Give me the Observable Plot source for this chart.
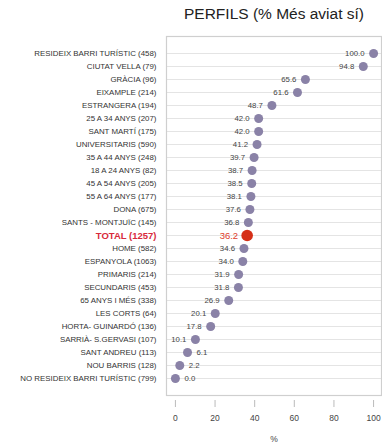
<!DOCTYPE html>
<html>
<head>
<meta charset="utf-8">
<script src="https://cdn.jsdelivr.net/npm/d3@7"></script>
<script src="https://cdn.jsdelivr.net/npm/@observablehq/plot@0.6"></script>
<style>
  html, body { margin: 0; padding: 0; background: #fff; }
  #chart { position: relative; width: 382px; height: 447px; }
  #title { position: absolute; left: 166px; width: 216px; top: 5px; text-align: center; z-index: 2;
           font-family: "Liberation Sans", Arial, sans-serif; font-size: 15.5px; color: #222; }
  #chart svg { position: absolute; left: 0; top: 0; z-index: 1; }
</style>
</head>
<body>
<div id="chart"><div id="title">PERFILS (% Més aviat sí)</div></div>
<script>
const categories = [
  "RESIDEIX BARRI TURÍSTIC (458)",
  "CIUTAT VELLA (79)",
  "GRÀCIA (96)",
  "EIXAMPLE (214)",
  "ESTRANGERA (194)",
  "25 A 34 ANYS (207)",
  "SANT MARTÍ (175)",
  "UNIVERSITARIS (590)",
  "35 A 44 ANYS (248)",
  "18 A 24 ANYS (82)",
  "45 A 54 ANYS (205)",
  "55 A 64 ANYS (177)",
  "DONA (675)",
  "SANTS - MONTJUÏC (145)",
  "TOTAL (1257)",
  "HOME (582)",
  "ESPANYOLA (1063)",
  "PRIMARIS (214)",
  "SECUNDARIS (453)",
  "65 ANYS I MÉS (338)",
  "LES CORTS (64)",
  "HORTA- GUINARDÓ (136)",
  "SARRIÀ- S.GERVASI (107)",
  "SANT ANDREU (113)",
  "NOU BARRIS (128)",
  "NO RESIDEIX BARRI TURÍSTIC (799)"
];
const values = [100.0, 94.8, 65.6, 61.6, 48.7, 42.0, 42.0, 41.2, 39.7, 38.7, 38.5, 38.1, 37.6, 36.8, 36.2, 34.6, 34.0, 31.9, 31.8, 26.9, 20.1, 17.8, 10.1, 6.1, 2.2, 0.0];
const totalLabel = "TOTAL (1257)";
const xTicks = [0, 20, 40, 60, 80, 100];

const data = categories.map((c, i) => ({label: c, value: values[i], total: c === totalLabel}));
const others = data.filter(d => !d.total);
const totals = data.filter(d => d.total);
const font = "Liberation Sans, Arial, sans-serif";

const plot = Plot.plot({
  width: 382,
  height: 447,
  marginTop: 36,
  marginBottom: 52,
  marginLeft: 166,
  marginRight: 1,
  style: {fontFamily: font, background: "transparent"},
  x: {domain: [-4.5, 104], ticks: xTicks},
  y: {type: "point", domain: categories, padding: 0.6},
  marks: [
    Plot.ruleY(categories, {y: d => d, stroke: "#e4e4e4", strokeWidth: 1.2}),
    Plot.frame({stroke: "#cfcfcf", strokeWidth: 1.2}),
    Plot.axisY({ticks: [], tickSize: 0, label: null}),
    Plot.axisX({ticks: xTicks, tickSize: 7, tickPadding: 7, dy: 5, fontSize: 8.5, fill: "#444", stroke: "#bbb",
                label: "%", labelAnchor: "center", labelArrow: "none", labelOffset: 46}),
    Plot.text(others, {y: "label", text: "label", frameAnchor: "left", textAnchor: "end", dx: -10,
                       fontSize: 7.9, fill: "#333"}),
    Plot.text(totals, {y: "label", text: "label", frameAnchor: "left", textAnchor: "end", dx: -10,
                       fontSize: 9.5, fontWeight: "bold", fill: "#d82a3c"}),
    Plot.dot(others, {x: "value", y: "label", r: 4.5, fill: "#8a82a7"}),
    Plot.dot(totals, {x: "value", y: "label", r: 5.8, fill: "#d52f17"}),
    Plot.text(others.filter(d => d.value >= 8), {x: "value", y: "label", text: d => d.value.toFixed(1),
              textAnchor: "end", dx: -9, fontSize: 7.8, fill: "#444"}),
    Plot.text(others.filter(d => d.value < 8), {x: "value", y: "label", text: d => d.value.toFixed(1),
              textAnchor: "start", dx: 9, fontSize: 7.8, fill: "#444"}),
    Plot.text(totals, {x: "value", y: "label", text: d => d.value.toFixed(1),
              textAnchor: "end", dx: -9, fontSize: 9.5, fill: "#e0402a"})
  ]
});
document.getElementById("chart").appendChild(plot);
</script>
</body>
</html>
